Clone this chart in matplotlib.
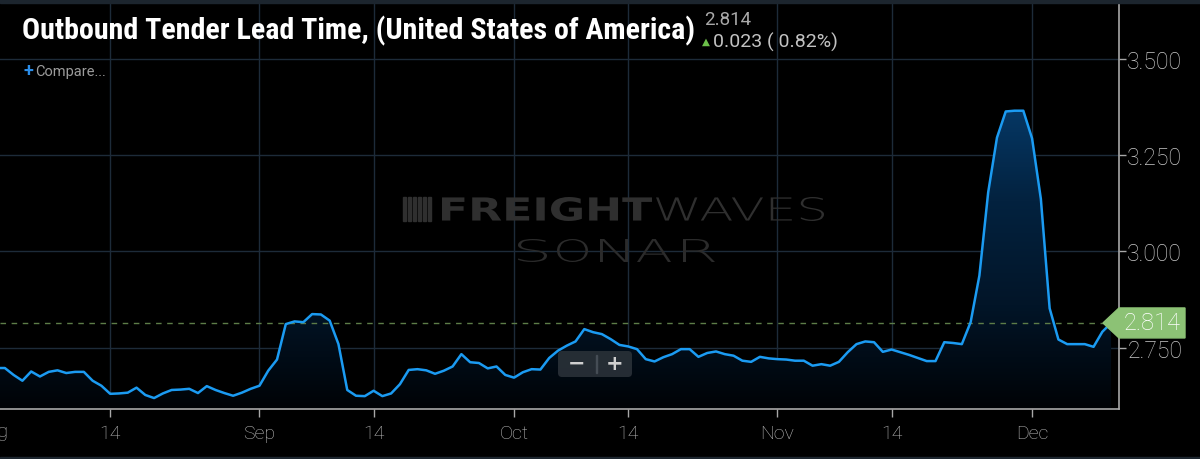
import numpy as np
import matplotlib
matplotlib.use("Agg")
import matplotlib.pyplot as plt
from matplotlib.colors import LinearSegmentedColormap
from matplotlib.patches import Polygon, FancyBboxPatch, Rectangle, PathPatch
from matplotlib.textpath import TextPath
from matplotlib.font_manager import FontProperties
from matplotlib.transforms import Affine2D, IdentityTransform

# daily series, one value per plotted point (ordinal axis, Aug -> Dec)
values = [
    2.697, 2.697, 2.679, 2.664, 2.688, 2.675, 2.687, 2.691, 2.684, 2.687,
    2.687, 2.664, 2.651, 2.630, 2.631, 2.633, 2.646, 2.627, 2.619, 2.631,
    2.640, 2.641, 2.643, 2.632, 2.650, 2.640, 2.632, 2.625, 2.633, 2.643,
    2.651, 2.690, 2.719, 2.811, 2.818, 2.816, 2.837, 2.836, 2.820, 2.759,
    2.640, 2.625, 2.624, 2.638, 2.624, 2.631,
    2.655, 2.692, 2.694, 2.691, 2.682, 2.690, 2.701, 2.733, 2.712, 2.710,
    2.696, 2.701, 2.679, 2.672, 2.686, 2.694, 2.693, 2.723, 2.742, 2.755,
    2.766, 2.798, 2.790, 2.785, 2.772, 2.757, 2.753, 2.746, 2.720, 2.714,
    2.725, 2.733, 2.746, 2.746, 2.726, 2.736, 2.740, 2.733, 2.729, 2.716,
    2.713, 2.726, 2.722, 2.720, 2.719, 2.716,
    2.716, 2.703, 2.707, 2.703, 2.713, 2.738, 2.759, 2.766, 2.764, 2.739,
    2.745, 2.738, 2.731, 2.723, 2.715, 2.715, 2.764, 2.762, 2.759, 2.816,
    2.937, 3.153, 3.295, 3.363, 3.365, 3.365, 3.293, 3.136, 2.852, 2.771,
    2.759, 2.759, 2.759, 2.752, 2.791, 2.814,
]
tick_index = [13, 30, 43, 59, 72, 89, 102, 118]
tick_labels = ["14", "Sep", "14", "Oct", "14", "Nov", "14", "Dec"]
y_ticks = [2.75, 3.0, 3.25, 3.5]
title = "Outbound Tender Lead Time, (United States of America)"
last_value = 2.814
change = 0.023
change_pct = 0.82

W, H = 1200, 460
BG = "#000000"
GRID = "#1d2b39"
LINE = "#1b9bf2"
GREEN = "#8cc275"
MARK = "#2f2f2f"

fig = plt.figure(figsize=(W / 100, H / 100), dpi=100, facecolor=BG)


def px(x, y):
    # figure pixel (from top-left) -> figure fraction
    return x / W, 1 - y / H


# plot area: x 0..1119 px, y 4..410 px
ax = fig.add_axes([0, 50 / H, 1119 / W, 406 / H])
ax.set_facecolor(BG)
x = np.arange(len(values))
xmin, xmax = 0.45, 127.9
ymin, ymax = 2.5906, 3.6446

for t in tick_index:
    ax.axvline(t, color=GRID, lw=1, zorder=0)
for t in y_ticks:
    ax.axhline(t, color=GRID, lw=1, zorder=0)

# gradient area under the line
fill = ax.fill_between(x, values, ymin, color="none", lw=0)
cmap = LinearSegmentedColormap.from_list(
    "fw", ["#000306", "#021528", "#03223f", "#063a69"])
grad = np.linspace(0, 1, 256).reshape(-1, 1)
im = ax.imshow(grad, extent=[xmin, xmax, ymin, 3.40], origin="lower",
               aspect="auto", cmap=cmap, zorder=1, interpolation="bilinear")
im.set_clip_path(fill.get_paths()[0], transform=ax.transData)

ax.plot(x, values, color=LINE, lw=1.8, zorder=3, solid_joinstyle="round")
ax.axhline(last_value, color="#5d7d48", lw=1, dashes=(4, 4), zorder=2)

ax.set_xlim(xmin, xmax)
ax.set_ylim(ymin, ymax)

for s in ["top", "left"]:
    ax.spines[s].set_visible(False)
for s in ["bottom", "right"]:
    ax.spines[s].set_color("#a8a8a8")
    ax.spines[s].set_linewidth(1.2)

ax.yaxis.tick_right()
ax.set_yticks(y_ticks)
ax.set_yticklabels([f"{v:.3f}" for v in y_ticks])
ax.set_xticks(tick_index)
ax.set_xticklabels(tick_labels)
ax.tick_params(axis="y", colors="#a8a8a8", labelcolor="#c8c8c8", length=5,
               width=1, pad=1, labelsize=16.5)
ax.tick_params(axis="x", colors="#a8a8a8", labelcolor="#bdbdbd", length=6,
               width=1, pad=5, labelsize=14)
for lab in ax.get_yticklabels() + ax.get_xticklabels():
    lab.set_fontfamily("Roboto")
    lab.set_fontweight("light")

# "Aug" label sits mostly left of the canvas, as in the source
ax.text(-0.45, -0.055, "Aug", transform=ax.get_xaxis_transform(), ha="center",
        va="center", color="#bdbdbd", fontsize=14, family="Roboto",
        weight="light", clip_on=False)

# frame strips
fig.patches.append(Rectangle((0, 1 - 4 / H), 1, 4 / H, transform=fig.transFigure,
                             color="#1c252e", zorder=0))
fig.patches.append(Rectangle((0, 0), 1, 2 / H, transform=fig.transFigure,
                             color="#1c252e", zorder=0))

# last value label
x0, y0 = ax.transData.transform((xmax, last_value))
pts = [(x0 - 16, y0), (x0, y0 + 15), (x0 + 66, y0 + 15), (x0 + 66, y0 - 15),
       (x0, y0 - 15)]
fig.patches.append(Polygon(pts, closed=True, transform=IdentityTransform(),
                           color=GREEN, zorder=5))
fig.text(*px(1152, 323), f"{last_value:.3f}", ha="center", va="center",
         color="white", fontsize=17, family="Roboto", weight="light", zorder=6)

# header
fig.text(*px(22, 31), title, ha="left", va="center", color="white",
         fontsize=21.6, weight="bold",
         family=["Liberation Sans Narrow", "Roboto Condensed", "DejaVu Sans"])
fig.text(*px(704, 20), f"{last_value:.3f}", ha="left", va="center",
         color="#a9a9a9", fontsize=13.5, family="Roboto")
fig.text(*px(702, 42), "\u25b2", ha="left", va="center", color="#6cc04a",
         fontsize=7.5, family="DejaVu Sans")
fig.text(*px(713, 42), f"{change:.3f} ( {change_pct:.2f}%)", ha="left",
         va="center", color="#c2c2c2", fontsize=14, family="Roboto")
fig.text(*px(23, 71), "+", ha="left", va="center", color="#2b8de8",
         fontsize=13, weight="bold", family="Roboto")
fig.text(*px(35, 72), "Compare...", ha="left", va="center", color="#9c9c9c",
         fontsize=10.5, family="Roboto")


def stretched(s, left, right, top, bottom, color, weight="normal"):
    # watermark glyphs stretched into a pixel box (top-left origin)
    tp = TextPath((0, 0), s, size=100,
                  prop=FontProperties(family="DejaVu Sans", weight=weight))
    ext = tp.get_extents()
    sx = (right - left) / ext.width
    sy = (bottom - top) / ext.height
    tr = Affine2D().translate(-ext.x0, -ext.y0).scale(sx, sy).translate(
        left, H - bottom)
    fig.patches.append(PathPatch(tp, transform=tr + IdentityTransform(),
                                 color=color, lw=0, zorder=1))


stretched("FREIGHT", 442, 652, 198, 222, MARK, weight="bold")
stretched("WAVES", 656, 824, 198, 222, MARK, weight="light")
sonar_boxes = [(518, 547), (557, 588), (600, 628), (637, 671), (683, 715)]
for ch, (l, r) in zip("SONAR", sonar_boxes):
    stretched(ch, l, r, 240, 263, "#2b2b2b", weight="light")
for i in range(6):
    fig.patches.append(Rectangle((403 + i * 5, H - 222), 2.5, 24,
                                 transform=IdentityTransform(),
                                 color=MARK, zorder=1))

# zoom buttons
fig.patches.append(FancyBboxPatch((558, H - 378), 74, 26,
                                  boxstyle="round,pad=0,rounding_size=4",
                                  transform=IdentityTransform(),
                                  facecolor="#2a3138", edgecolor="none",
                                  alpha=0.9, zorder=7))
fig.patches.append(Rectangle((596, H - 374), 1, 18, transform=IdentityTransform(),
                             color="#454d55", zorder=8))
fig.text(*px(577, 364), "\u2212", ha="center", va="center", color="#cfcfcf",
         fontsize=15, weight="bold", zorder=9)
fig.text(*px(615, 364), "+", ha="center", va="center", color="#cfcfcf",
         fontsize=15, weight="bold", zorder=9)

fig.savefig("out.png", dpi=100, facecolor=BG)
